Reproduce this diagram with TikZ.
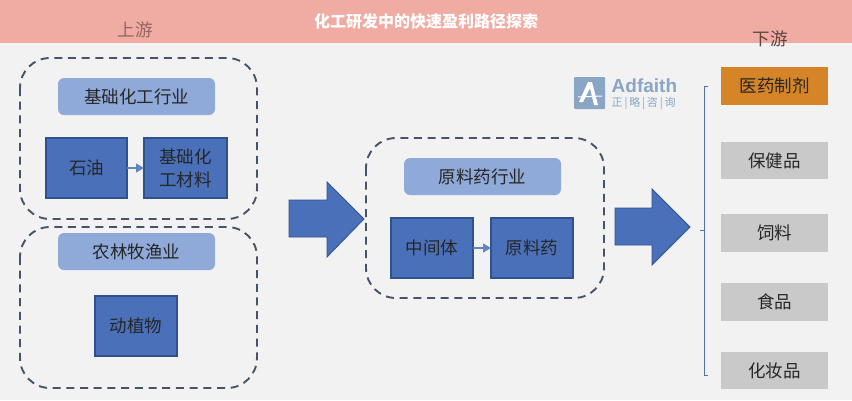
\documentclass[tikz,border=0pt]{standalone}
\usepackage{fontspec}
\setmainfont{Noto Sans CJK SC}
\newfontfamily\latinfont{Liberation Sans}
\usetikzlibrary{arrows.meta,positioning}
\definecolor{bgc}{HTML}{F2F2F2}
\definecolor{band}{HTML}{F0ABA3}
\definecolor{dashc}{HTML}{44546A}
\definecolor{headc}{HTML}{8FA9D8}
\definecolor{bluec}{HTML}{4A70BA}
\definecolor{blueedge}{HTML}{2F528F}
\definecolor{greyc}{HTML}{C9C9C9}
\definecolor{orangec}{HTML}{D58428}
\definecolor{logoc}{HTML}{8AA6C4}
\definecolor{arrowc}{HTML}{5F86C2}
\definecolor{inkc}{HTML}{262626}
\tikzset{
  x=1pt,y=-1pt,
  box/.style 2 args={minimum width=#1pt,minimum height=#2pt,inner sep=0pt,outer sep=0pt,anchor=north west,align=center,text=inkc,font=\fontsize{17.5}{23}\selectfont},
  groupbox/.style={draw=dashc,line width=1.9pt,rounded corners=30pt,dash pattern=on 8pt off 5.7pt},
  headbox/.style={fill=headc,rounded corners=6pt},
  bluebox/.style={fill=bluec,draw=blueedge,line width=1.2pt},
  greybox/.style={fill=greyc},
  orangebox/.style={fill=orangec},
  smallarrow/.style={draw=arrowc,line width=1.3pt,-{Triangle[length=8pt,width=9pt]}},
  bigarrow/.style={fill=bluec,draw=blueedge,line width=.8pt},
  stagelabel/.style={font=\fontsize{17.5}{20}\selectfont},
}
\begin{document}
\begin{tikzpicture}
\useasboundingbox (0,0) rectangle (852,400);
\fill[bgc] (0,0) rectangle (852,400);
\fill[band] (0,0) rectangle (852,43);
\node[text=white,font=\fontsize{16}{20}\selectfont\bfseries] (title) at (426,21) {化工研发中的快速盈利路径探索};
\node[stagelabel,text=band!60!black] (up) at (135,29.5) {上游};
\node[stagelabel,text=band!40!black] (down) at (770,39) {下游};
% dashed groups
\draw[groupbox] (20,58) rectangle (257,219);
\draw[groupbox] (20,227) rectangle (257,388);
\draw[groupbox] (366,138) rectangle (604,298);
% headers
\node[box={157}{37},headbox] (h1) at (58,78) {基础化工行业};
\node[box={157}{37},headbox] (h2) at (58,233) {农林牧渔业};
\node[box={157}{37},headbox] (h3) at (404,158) {原料药行业};
% blue boxes
\node[box={81}{60},bluebox] (oil) at (46,138) {石油};
\node[box={83}{60},bluebox] (mat) at (144,138) {基础化\\工材料};
\node[box={82}{60},bluebox] (plant) at (95,296) {动植物};
\node[box={82}{60},bluebox] (mid) at (391,218) {中间体};
\node[box={82}{60},bluebox] (api) at (491,218) {原料药};
\draw[smallarrow] (oil) -- (mat);
\draw[smallarrow] (mid) -- (api);
% big arrows
\draw[bigarrow] (289,200) -- (327,200) -- (327,182) -- (364,219) -- (327,257) -- (327,237) -- (289,237) -- cycle;
\draw[bigarrow] (615,208) -- (652,208) -- (652,189) -- (690,227) -- (652,265) -- (652,245) -- (615,245) -- cycle;
% right column
\node[box={107}{38},orangebox] (r1) at (721,67) {医药制剂};
\node[box={107}{37},greybox] (r2) at (721,142) {保健品};
\node[box={107}{38},greybox] (r3) at (721,214) {饲料};
\node[box={107}{38},greybox] (r4) at (721,283) {食品};
\node[box={107}{37},greybox] (r5) at (721,352) {化妆品};
% bracket
\draw[draw=arrowc!85!black,line width=.9pt] (708,86) -- (704,86) -- (704,375) -- (708,375);
\draw[draw=arrowc!85!black,line width=.9pt] (700,230) -- (704,230);
% logo
\fill[logoc,rounded corners=1pt] (574,77) rectangle (605,109);
\fill[white] (579,102) -- (588,82) -- (592,82) -- (598,105) -- (594,105) -- (590,88) -- (583,102) -- cycle;
\draw[white,line width=1pt] (578,97) -- (602,96);
\node[anchor=west,inner sep=0pt,text=logoc,font=\latinfont\fontsize{19}{19}\selectfont\bfseries,text height=13pt,text depth=0pt] (brand) at (611.5,85.5) {Adfaith};
\node[anchor=west,inner sep=0pt,text=logoc,font=\fontsize{11}{12}\selectfont,text height=9pt,text depth=1pt] (brandcn) at (611.5,102.5) {正\,|\,略\,|\,咨\,|\,询};
\end{tikzpicture}
\end{document}
